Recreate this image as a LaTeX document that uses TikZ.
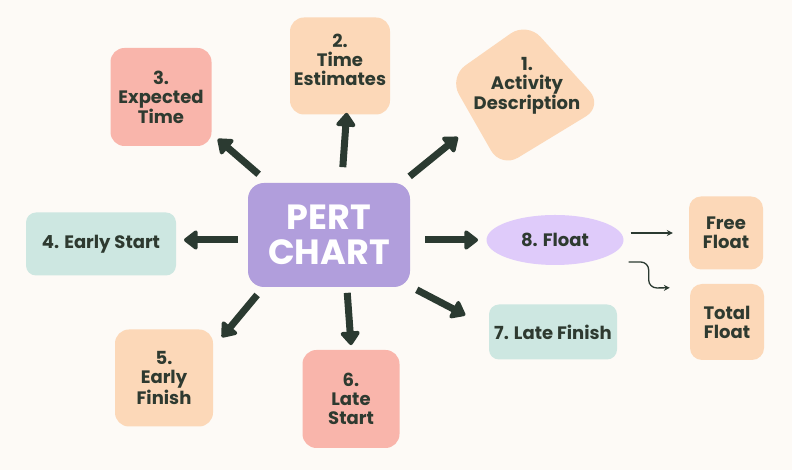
\documentclass[tikz,border=0pt]{standalone}
\usepackage{fontspec}
\setmainfont{Poppins}
\usetikzlibrary{arrows.meta,shapes.geometric,calc}
\definecolor{bg}{HTML}{FDFAF6}
\definecolor{ink}{HTML}{2E3A30}
\definecolor{arrowc}{HTML}{2B3A31}
\definecolor{purp}{HTML}{B19EDC}
\definecolor{peach}{HTML}{FCD8B8}
\definecolor{pink}{HTML}{F9B5AB}
\definecolor{mint}{HTML}{CDE7E1}
\definecolor{lav}{HTML}{DFCBFA}
\begin{document}
\begin{tikzpicture}[x=1pt,y=1pt,
  box/.style={rounded corners=14pt, inner sep=0pt, align=center, text=ink,
    font=\bfseries\fontsize{18}{19}\selectfont},
  txt/.style={inner sep=0pt, align=center, text=ink,
    font=\bfseries\fontsize{18}{19}\selectfont},
  bigarr/.style={draw=arrowc, line width=7pt, -{Triangle[length=15pt,width=22pt,round]}},
  thinarr/.style={draw=arrowc, line width=1.3pt, -{Stealth[length=6pt,width=6pt]}}]
\useasboundingbox (0,0) rectangle (792,470);
\fill[bg] (0,0) rectangle (792,470);
% centre
\node[box, fill=purp, minimum width=162, minimum height=104, rounded corners=16pt,
  text=white, font=\bfseries\fontsize{35}{35}\selectfont] (pert) at (329,235) {PERT\\CHART};
% 1
\fill[peach, rounded corners=20pt] (449,393) -- (527,448) -- (603,364) -- (501,302) -- cycle;
\node[txt] (n1) at (527,384) {1.\\Activity\\Description};
% 2
\node[box, fill=peach, minimum width=100, minimum height=97] (n2) at (340,404) {};
\node[txt] (t2) at (340,410) {2.\\Time\\Estimates};
% 3
\node[box, fill=pink, minimum width=101, minimum height=98] (n3) at (161,373) {3.\\Expected\\Time};
% 4
\node[box, fill=mint, minimum width=150, minimum height=63, rounded corners=10pt] (n4) at (101,226) {4. Early Start};
% 5
\node[box, fill=peach, minimum width=98, minimum height=97] (n5) at (164,92) {5.\\Early\\Finish};
% 6
\node[box, fill=pink, minimum width=97, minimum height=98] (n6) at (351,71) {6.\\Late\\Start};
% 7
\node[box, fill=mint, minimum width=128, minimum height=55, rounded corners=10pt] (n7) at (553,138) {7. Late Finish};
% 8
\node[ellipse, fill=lav, minimum width=137, minimum height=50, inner sep=0pt, text=ink,
  font=\bfseries\fontsize{18}{19}\selectfont] (n8) at (555,230) {8. Float};
% floats
\node[box, fill=peach, minimum width=74, minimum height=73, rounded corners=12pt] (nff) at (726,237) {Free\\Float};
\node[box, fill=peach, minimum width=74, minimum height=76, rounded corners=12pt] (ntf) at (727,148) {Total\\Float};
% arrows
\draw[bigarr, shorten <=93pt, shorten >=75pt] (pert.center) -- ([yshift=7pt]n3.center);
\draw[bigarr, shorten <=68pt, shorten >=47pt] ([xshift=9pt]pert.center) -- ([xshift=10pt]n2.center);
\draw[bigarr, shorten <=104pt, shorten >=89pt] ([yshift=-7pt]pert.center) -- ([yshift=5pt]n1.center);
\draw[bigarr, shorten <=91pt, shorten >=83pt] ([yshift=-5pt]pert.center) -- ([yshift=4pt]n4.center);
\draw[bigarr, shorten <=78pt, shorten >=53pt] ([xshift=-22pt]pert.center) -- ([xshift=24pt]n5.center);
\draw[bigarr, shorten <=58pt, shorten >=54pt] ([xshift=14pt]pert.center) -- ([xshift=4pt]n6.center);
\draw[bigarr, shorten <=96pt, shorten >=77pt] ([yshift=-5pt]pert.center) -- (n8.center);
\draw[bigarr, shorten <=99pt, shorten >=99pt] ([yshift=-9pt]pert.center) -- ([yshift=-29pt]n7.center);
\draw[thinarr, shorten <=7pt, shorten >=16pt] (n8.east |- nff.west) -- (nff.west);
\draw[thinarr, rounded corners=8pt] ([shift={(5,-22)}]n8.east) -- ++(20,0) -- ++(0,-26) -- ([shift={(-20,-4)}]ntf.north west);
\end{tikzpicture}
\end{document}
